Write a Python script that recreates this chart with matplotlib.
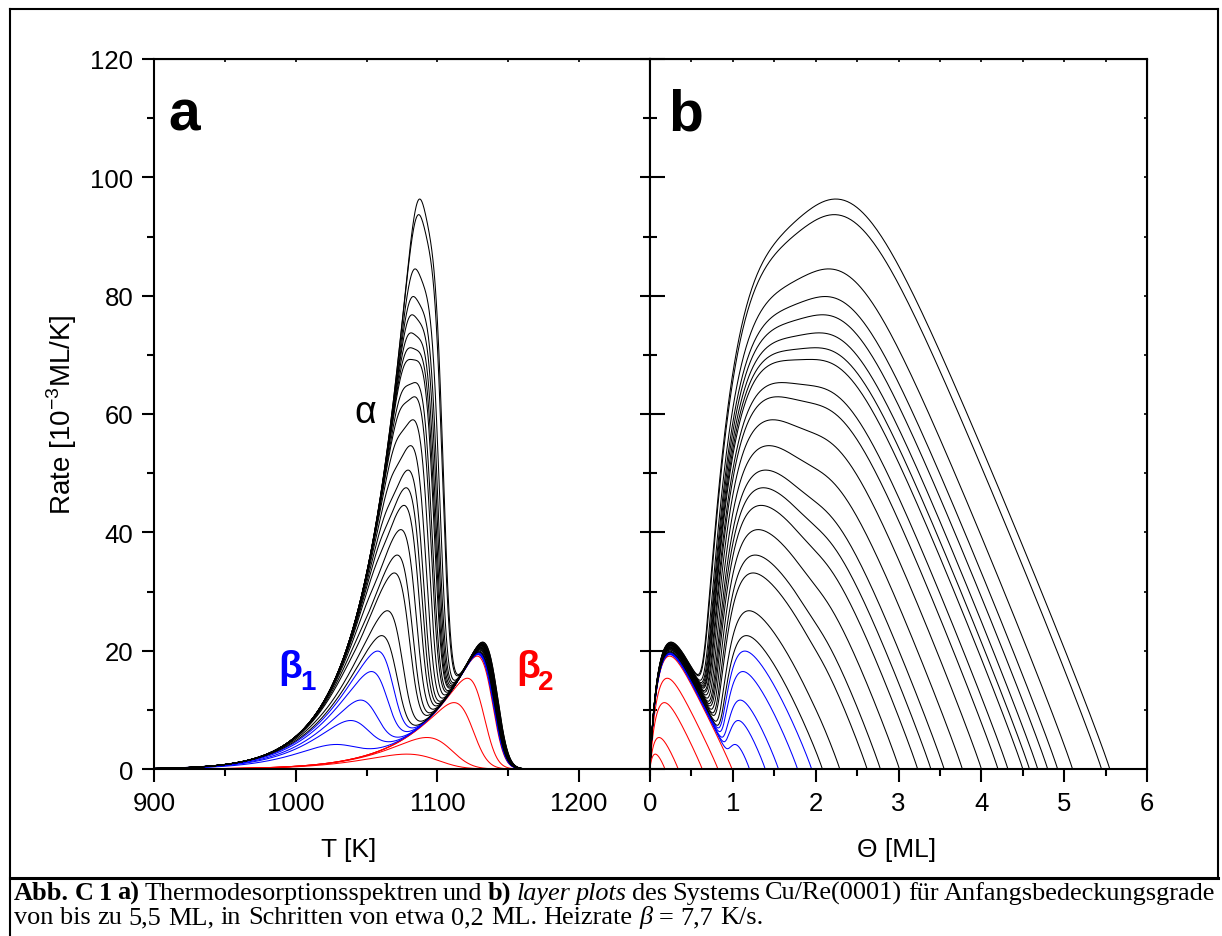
import numpy as np
import matplotlib.pyplot as plt
from matplotlib.ticker import MultipleLocator
from matplotlib.lines import Line2D

plt.rcParams['font.family'] = ['Liberation Sans', 'DejaVu Sans']

W, H = 1222, 937

theta0_red = [0.18, 0.34, 0.63, 0.82, 0.99]
theta0_blue = [1.20, 1.39, 1.55, 1.78, 1.95]
theta0_black = [2.08, 2.29, 2.62, 2.78, 3.01, 3.23, 3.39, 3.55, 3.77, 4.00,
                4.20, 4.32, 4.50, 4.58, 4.68, 4.80, 4.92, 5.10, 5.45, 5.55]

# leading edges: (rate [1e-3 ML/K] at T_ref, T_ref [K], E/k [K])
edge_alpha = (44.0, 1060.0, 38000.0)
edge_beta1 = (34.0, 1061.5, 35000.0)
edge_beta2 = (20.0, 1125.0, 34000.0)

T = np.arange(880.0, 1262.0, 0.05)


def edge(temp, params):
    r_ref, t_ref, e_k = params
    return r_ref * np.exp(e_k * (1.0 / t_ref - 1.0 / temp))


def desorb(theta0, d_alpha=0.45, n_beta1=0.35, d_beta2=0.1, shield=0.3, smooth=3.5):
    """Rate(T) and remaining coverage(T) for a set of starting coverages."""
    theta0 = np.asarray(theta0, float)
    stack = np.clip(theta0 - 1.0, 0.0, None)   # beta1 with alpha on top
    first = np.minimum(theta0, 1.0)            # beta2
    dT = T[1] - T[0]
    ka, k1, k2 = edge(T, edge_alpha), edge(T, edge_beta1), edge(T, edge_beta2)
    rate = np.empty((T.size, theta0.size))
    for i in range(T.size):
        ra = 1.0 - np.exp(-np.clip(stack - 1.0, 0.0, None) / d_alpha)
        s1 = np.minimum(stack, 1.0)
        g1 = s1 ** n_beta1 * (1.0 - np.exp(-s1 / 0.05))
        rs = ka[i] * ra + k1[i] * g1 * (1.0 - ra)
        r2 = k2[i] * (1.0 - np.exp(-first / d_beta2)) * (1.0 - shield * s1)
        stack = np.clip(stack - rs * dT * 1e-3, 0.0, None)
        first = np.clip(first - r2 * dT * 1e-3, 0.0, None)
        rate[i] = rs + r2
    # a little instrumental broadening
    n = int(4 * smooth / dT)
    x = np.arange(-n, n + 1) * dT
    kern = np.exp(-0.5 * (x / smooth) ** 2)
    kern /= kern.sum()
    rate = np.apply_along_axis(lambda c: np.convolve(c, kern, mode='same'), 0, rate)
    cover = np.cumsum(rate[::-1], axis=0)[::-1] * dT * 1e-3
    return rate, cover


fig = plt.figure(figsize=(W / 100, H / 100), dpi=100)


def fx(px):
    return px / W


def fy(py):
    return 1 - py / H


ax_a = fig.add_axes([fx(154), fy(770), fx(650) - fx(154), fy(60) - fy(770)])
ax_b = fig.add_axes([fx(650), fy(770), fx(1147) - fx(650), fy(60) - fy(770)])

for theta0, col in [(theta0_red, '#ff0000'), (theta0_blue, '#0000ff'), (theta0_black, 'black')]:
    rate, cover = desorb(theta0)
    for j in range(rate.shape[1]):
        ax_a.plot(T[::4], rate[::4, j], color=col, lw=0.75)
        ax_b.plot(cover[::4, j], rate[::4, j], color=col, lw=0.75)

ax_a.set_xlim(900, 1250)
ax_b.set_xlim(0, 6)
for ax in (ax_a, ax_b):
    ax.set_ylim(0, 120)
    ax.yaxis.set_major_locator(MultipleLocator(20))
    ax.yaxis.set_minor_locator(MultipleLocator(10))
    for s in ax.spines.values():
        s.set_linewidth(1.5)
    ax.tick_params(axis='x', which='both', direction='out', top=False, width=1.5,
                   labelsize=18.5, pad=7)
    ax.tick_params(axis='x', which='major', length=9)
    ax.tick_params(axis='x', which='minor', length=5)
    sec = ax.secondary_xaxis('top')
    sec.tick_params(which='both', direction='in', length=2.5, width=1.2,
                    labeltop=False, labelbottom=False)

ax_a.xaxis.set_major_locator(MultipleLocator(100))
ax_a.xaxis.set_minor_locator(MultipleLocator(50))
ax_b.xaxis.set_major_locator(MultipleLocator(1))
ax_b.xaxis.set_minor_locator(MultipleLocator(0.5))
ax_a.child_axes[0].xaxis.set_major_locator(MultipleLocator(50))
ax_b.child_axes[0].xaxis.set_major_locator(MultipleLocator(0.5))

ax_a.tick_params(axis='y', which='both', direction='out', right=False, width=1.5,
                 labelsize=18.5, pad=6)
ax_a.tick_params(axis='y', which='major', length=9)
ax_a.tick_params(axis='y', which='minor', length=5)
sec_ar = ax_a.secondary_yaxis('right')
sec_ar.yaxis.set_major_locator(MultipleLocator(20))
sec_ar.yaxis.set_minor_locator(MultipleLocator(10))
sec_ar.tick_params(which='both', direction='in', width=1.5, labelright=False)
sec_ar.tick_params(which='major', length=7)
sec_ar.tick_params(which='minor', length=5)

ax_b.tick_params(axis='y', which='both', direction='in', right=False, width=1.5,
                 labelleft=False)
ax_b.tick_params(axis='y', which='major', length=11)
ax_b.tick_params(axis='y', which='minor', length=5)
sec_br = ax_b.secondary_yaxis('right')
sec_br.yaxis.set_major_locator(MultipleLocator(10))
sec_br.tick_params(which='both', direction='in', length=2.5, width=1.2, labelright=False)

ax_a.set_ylabel('Rate [10$^{\\mathregular{-3}}$ML/K]', fontsize=20)
ax_a.yaxis.set_label_coords(-0.151, 0.5)
ax_a.set_xlabel('T [K]', fontsize=19)
ax_a.xaxis.set_label_coords(0.393, -0.096)
ax_b.set_xlabel('\u0398 [ML]', fontsize=19)
ax_b.xaxis.set_label_coords(0.497, -0.096)

ax_a.text(0.028, 0.901, 'a', transform=ax_a.transAxes, fontsize=41, fontweight='bold')
ax_b.text(0.036, 0.901, 'b', transform=ax_b.transAxes, fontsize=41, fontweight='bold')
ax_a.text(0.425, 0.503, '\u03b1', transform=ax_a.transAxes, fontsize=27,
          ha='center', va='center')
ax_a.text(0.250, 0.13, '\u03b2', transform=ax_a.transAxes, fontsize=28,
          fontweight='bold', color='#0000ff')
ax_a.text(0.295, 0.113, '1', transform=ax_a.transAxes, fontsize=20,
          fontweight='bold', color='#0000ff')
ax_a.text(0.730, 0.13, '\u03b2', transform=ax_a.transAxes, fontsize=28,
          fontweight='bold', color='#ff0000')
ax_a.text(0.775, 0.113, '2', transform=ax_a.transAxes, fontsize=20,
          fontweight='bold', color='#ff0000')

# frame round the figure and the caption rule
for xs, ys, lw in [((10, 1218), (10, 10), 1.5), ((10, 10), (10, 937), 1.5),
                   ((1218, 1218), (10, 879), 1.5), ((10, 1218), (879, 879), 2.2)]:
    fig.add_artist(Line2D([fx(xs[0]), fx(xs[1])], [fy(ys[0]), fy(ys[1])],
                          color='black', lw=lw, transform=fig.transFigure))

# caption, set word by word so the first line can be justified
fig.canvas.draw()
renderer = fig.canvas.get_renderer()
serif = ['Liberation Serif', 'DejaVu Serif']
STYLE = {'n': {}, 'b': {'fontweight': 'bold'}, 'i': {'fontstyle': 'italic'}}


def text_width(s, size, style):
    t = fig.text(0, 0, s, fontsize=size, family=serif, **STYLE[style])
    w = t.get_window_extent(renderer).width
    t.remove()
    return w


line1 = [('Abb.', 'b'), ('C', 'b'), ('1', 'b'), ('a)', 'b'), ('Thermodesorptionsspektren', 'n'),
         ('und', 'n'), ('b)', 'b'), ('layer', 'i'), ('plots', 'i'), ('des', 'n'), ('Systems', 'n'),
         ('Cu/Re(0001)', 'n'), ('f\u00fcr', 'n'), ('Anfangsbedeckungsgrade', 'n')]
line2 = [('von', 'n'), ('bis', 'n'), ('zu', 'n'), ('5,5', 'n'), ('ML,', 'n'), ('in', 'n'),
         ('Schritten', 'n'), ('von', 'n'), ('etwa', 'n'), ('0,2', 'n'), ('ML.', 'n'),
         ('Heizrate', 'n'), ('\u03b2', 'i'), ('=', 'n'), ('7,7', 'n'), ('K/s.', 'n')]


def space_width(size):
    return text_width('a a', size, 'n') - text_width('aa', size, 'n')


def natural_width(words, size):
    return sum(text_width(w, size, s) for w, s in words) + space_width(size) * (len(words) - 1)


cap_size = 10 * (763 - 14) / natural_width(line2, 10)


def place(words, y_px, size, x0=14, x1=None):
    widths = [text_width(w, size, s) for w, s in words]
    space = space_width(size)
    if x1 is not None:
        space = (x1 - x0 - sum(widths)) / (len(words) - 1)
    x = x0
    for (w, s), wd in zip(words, widths):
        fig.text(fx(x), fy(y_px), w, fontsize=size, family=serif, va='baseline', **STYLE[s])
        x += wd + space


place(line1, 900, cap_size, x1=1215)
place(line2, 924, cap_size)

fig.savefig('out.png', dpi=100, facecolor='white')
